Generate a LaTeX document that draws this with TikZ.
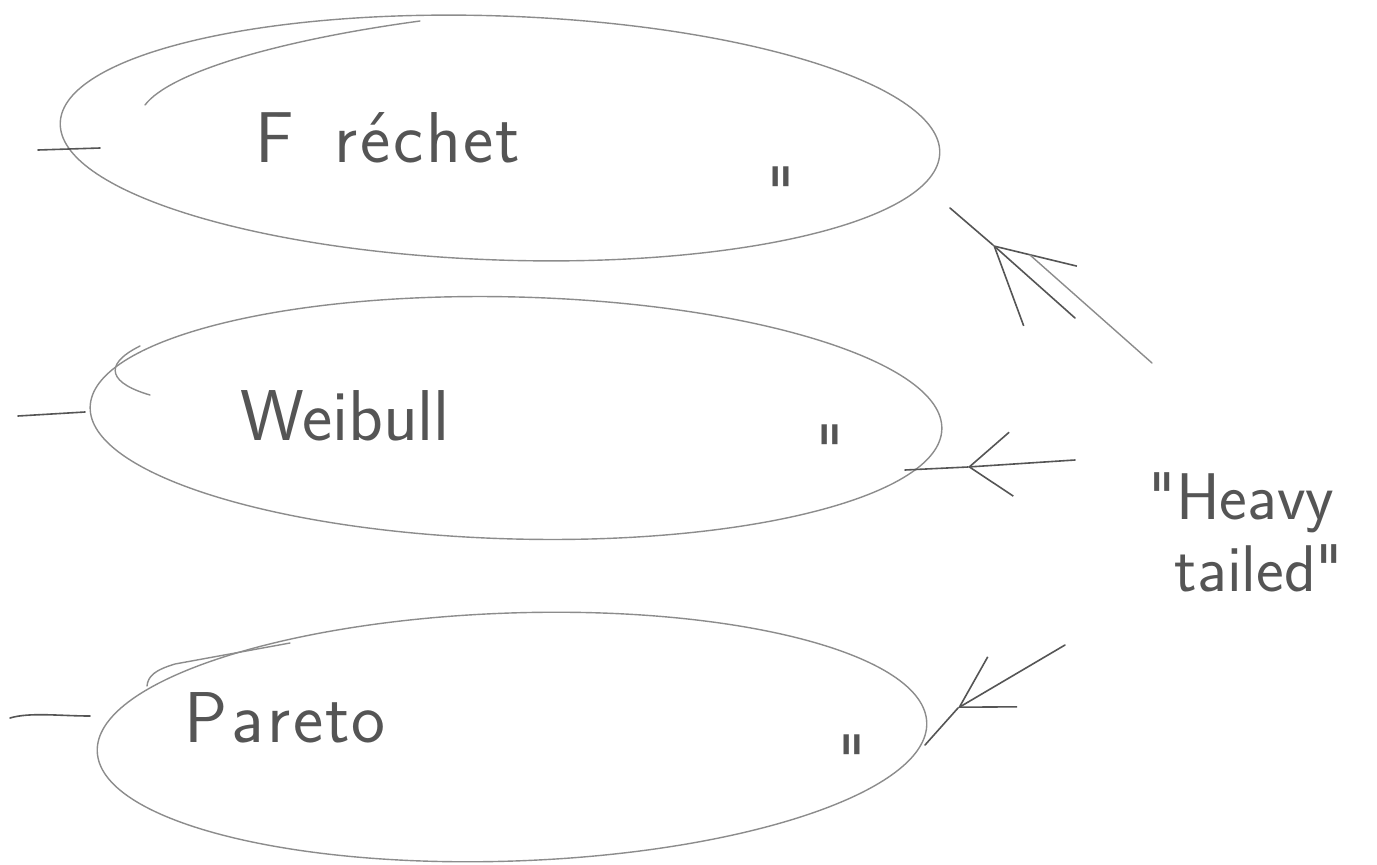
\documentclass[tikz,border=0pt]{standalone}
\usepackage{fontspec}
\usetikzlibrary{shapes.geometric,arrows.meta}
\definecolor{penc}{HTML}{8C8C8C}
\definecolor{inkc}{HTML}{555555}
\begin{document}
\begin{tikzpicture}[x=1pt,y=-1pt,
  pen/.style={draw=penc, line width=1.4pt, line cap=round},
  ink/.style={draw=inkc, line width=1.6pt, line cap=round},
  oval/.style={pen, ellipse, inner sep=0pt},
  hand/.style={text=inkc, font=\sffamily\fontsize{72}{80}\selectfont, inner sep=0pt},
  ditto/.style={text=inkc, font=\sffamily\fontsize{70}{76}\selectfont, inner sep=0pt},
  pointer/.style={ink, -{Straight Barb[length=42pt, width=64pt, line width=1.6pt]}}]
\useasboundingbox[fill=white] (0,0) rectangle (1377,865);

% the three families, one oval each
\node[oval, minimum width=880pt, minimum height=244pt, rotate=-2] (fre) at (500,138) {};
\node[oval, minimum width=852pt, minimum height=242pt, rotate=-1.5] (wei) at (516,418) {};
\node[oval, minimum width=830pt, minimum height=248pt, rotate=2] (par) at (512,737) {};

% overlapping starts of the pen strokes
\draw[pen] (145,105) .. controls (170,72) and (280,40) .. (420,21);
\draw[pen] (150,395) .. controls (112,384) and (100,366) .. (140,346);
\draw[pen] (147,686) .. controls (148,676) and (155,670) .. (175,664) -- (290,643);

% names
\node[hand] (tfre) at (388,138) {F\hspace{40pt}r\kern3pt é\kern3pt c\kern3pt h\kern2pt e\kern2pt t};
\node[hand] (twei) at (345,416) {Weibull};
\node[hand] (tpar) at (285,718) {P\kern4pt a\kern3pt r\kern3pt e\kern2pt t\kern2pt o};

% ditto marks
\node[ditto] (dfre) at (781,192) {\textquotedbl};
\node[ditto] (dwei) at (830,450) {\textquotedbl};
\node[ditto] (dpar) at (852,760) {\textquotedbl};

% leading dashes
\draw[ink] (38,150) -- (100,148);
\draw[ink] (18,416) -- (85,412);
\draw[ink] (10,718) .. controls (30,712) and (60,716) .. (90,716);

% common label
\node[hand, font=\sffamily\fontsize{66}{74}\selectfont, align=left] (heavy) at (1246,532)
  {\textquotedbl Heavy\\[-2pt]\hspace{26pt}tailed\textquotedbl};

% pointers from the label to the ovals
\coordinate (a1) at (1075,318);
\coordinate (h1) at (993,245);
\coordinate (e1) at (950,208);
\draw[ink, -{Straight Barb[length=75pt, width=80pt, line width=1.6pt]}] (a1) -- (h1);
\draw[ink] (h1) -- (e1);
\draw[pen] (1030,255) -- (1152,363);

\coordinate (a2) at (1075,460);
\coordinate (h2) at (968,467);
\coordinate (e2) at (905,470);
\draw[pointer] (a2) -- (h2);
\draw[ink] (h2) -- (e2);

\coordinate (a3) at (1065,645);
\coordinate (h3) at (958,708);
\coordinate (e3) at (925,745);
\draw[ink, -{Straight Barb[length=50pt, width=58pt, line width=1.6pt]}] (a3) -- (h3);
\draw[ink] (h3) -- (e3);
\end{tikzpicture}
\end{document}
